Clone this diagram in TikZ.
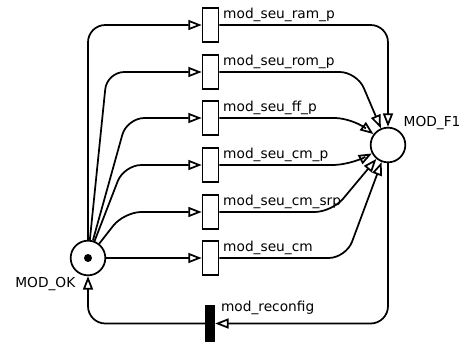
\documentclass[tikz,border=0pt]{standalone}
\usepackage{fontspec}
\setmainfont{DejaVu Sans}
\usetikzlibrary{arrows.meta,calc}

\begin{document}
\begin{tikzpicture}[x=0.75pt, y=-0.75pt, line width=1.3pt,
  arc/.style={-{Triangle[open,length=10pt,width=7.5pt]}, rounded corners=13pt},
  place/.style={circle, draw, fill=white, minimum size=26pt, inner sep=0pt},
  trans/.style={rectangle, draw, fill=white, minimum width=12pt, minimum height=26pt, inner sep=0pt},
  bar/.style={rectangle, draw, fill=black, minimum width=6.5pt, minimum height=26.5pt, inner sep=0pt},
  lbl/.style={font=\fontsize{10.3}{12}\selectfont, inner sep=0pt}]
  \useasboundingbox (0,0) rectangle (464,342);

  % places
  \node[place] (ok) at (88,258) {};
  \node[place] (f1) at (388,145) {};
  \fill (ok) circle (4);   % token

  % transitions
  \node[trans] (ram)   at (210.5,25)  {};
  \node[trans] (rom)   at (210.5,72)  {};
  \node[trans] (ff)    at (210.5,118) {};
  \node[trans] (cmp)   at (210.5,165) {};
  \node[trans] (cmsrp) at (210.5,212) {};
  \node[trans] (cm)    at (210.5,258) {};
  \node[bar]   (rcfg)  at (210,323.5) {};

  % bends on the left fan
  \coordinate (bl2) at (107,72);
  \coordinate (bl3) at (127,118);
  \coordinate (bl4) at (124,165);
  \coordinate (bl5) at (124,212);
  % bends towards MOD_F1
  \coordinate (br2) at (357,72);
  \coordinate (br3) at (352,118);
  \coordinate (br4) at (350,165);
  \coordinate (br5) at (332,212);
  \coordinate (br6) at (346,258);

  % MOD_OK -> transitions
  \draw[arc] (ok) |- (ram);
  \draw[arc] (ok) -- (bl2) -- (rom);
  \draw[arc] (ok) -- (bl3) -- (ff);
  \draw[arc] (ok) -- (bl4) -- (cmp);
  \draw[arc] (ok) -- (bl5) -- (cmsrp);
  \draw[arc] (ok) -- (cm);

  % transitions -> MOD_F1
  \draw[arc] (ram) -| (f1);
  \draw[arc] (rom) -- (br2) -- (f1);
  \draw[arc] (ff) -- (br3) -- (f1);
  \draw[arc] (cmp) -- (br4) -- (f1);
  \draw[arc] (cmsrp) -- (br5) -- (f1);
  \draw[arc] (cm) -- (br6) -- (f1);

  % reconfiguration loop
  \draw[arc] (f1) |- (rcfg);
  \draw[arc] (rcfg) -| (ok);

  % labels
  \node[lbl, anchor=base west] (l1) at ($(ram.north east)+(3,12)$)   {mod\_seu\_ram\_p};
  \node[lbl, anchor=base west] (l2) at ($(rom.north east)+(3,12)$)   {mod\_seu\_rom\_p};
  \node[lbl, anchor=base west] (l3) at ($(ff.north east)+(3,12)$)    {mod\_seu\_ff\_p};
  \node[lbl, anchor=base west] (l4) at ($(cmp.north east)+(3,12)$)   {mod\_seu\_cm\_p};
  \node[lbl, anchor=base west] (l5) at ($(cmsrp.north east)+(3,12)$) {mod\_seu\_cm\_srp};
  \node[lbl, anchor=base west] (l6) at ($(cm.north east)+(3,12)$)    {mod\_seu\_cm};
  \node[lbl, anchor=base west] (l7) at ($(rcfg.north east)+(5,7)$)   {mod\_reconfig};
  \node[lbl, anchor=base west] (l8) at ($(f1.north east)+(2,-6)$)    {MOD\_F1};
  \node[lbl, anchor=base east] (l9) at ($(ok.south west)+(1,17)$)    {MOD\_OK};
\end{tikzpicture}
\end{document}
